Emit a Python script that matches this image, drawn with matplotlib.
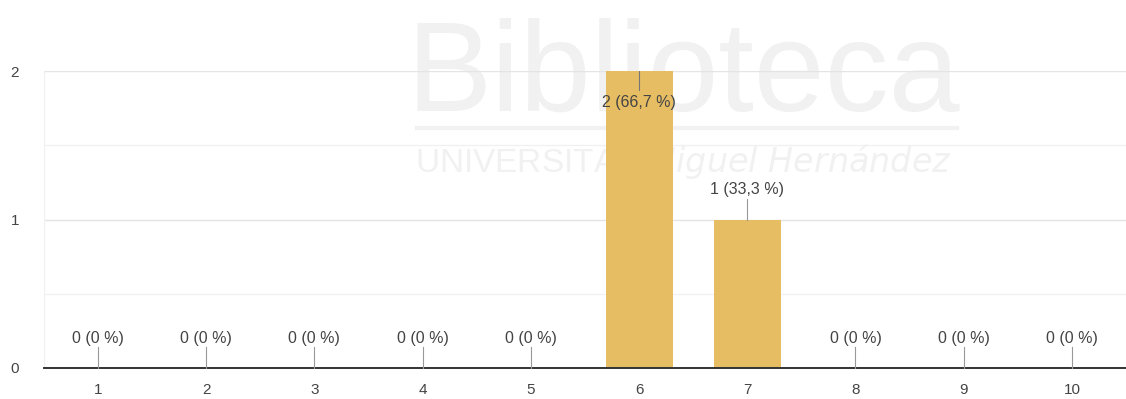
import matplotlib.pyplot as plt
from matplotlib.ticker import MultipleLocator

plt.rcParams['font.family'] = ['Liberation Sans', 'DejaVu Sans']

# answers on a 1-10 scale
categories = ['1', '2', '3', '4', '5', '6', '7', '8', '9', '10']
counts = [0, 0, 0, 0, 0, 2, 1, 0, 0, 0]
percents = ['0', '0', '0', '0', '0', '66,7', '33,3', '0', '0', '0']

bar_color = '#e6bd63'
text_color = '#444444'
fs = 11.5

fig = plt.figure(figsize=(11.26, 3.99), dpi=100)
ax = fig.add_axes([0.039, 0.0777, 0.961, 0.744])
ax.patch.set_alpha(0)

x = list(range(1, len(categories) + 1))
ax.bar(x, counts, width=0.62, color=bar_color, zorder=2)

ax.set_xlim(0.5, 10.5)
ax.set_ylim(0, 2)
ax.set_xticks(x)
ax.set_xticklabels(categories)
ax.yaxis.set_major_locator(MultipleLocator(1))
ax.yaxis.set_minor_locator(MultipleLocator(0.5))
ax.tick_params(axis='both', which='both', length=0, labelsize=11, colors=text_color)
ax.tick_params(axis='x', pad=11)
ax.tick_params(axis='y', pad=24)
for t in ax.get_yticklabels():
    t.set_horizontalalignment('left')

ax.grid(axis='y', which='major', color='#e4e4e4', linewidth=1, zorder=0)
ax.grid(axis='y', which='minor', color='#f1f1f1', linewidth=1, zorder=0)
for side in ['top', 'right']:
    ax.spines[side].set_visible(False)
ax.spines['left'].set_color('#f0f0f0')
ax.spines['bottom'].set_color('#333333')
ax.spines['bottom'].set_linewidth(1.4)
ax.spines['bottom'].set_zorder(3)

# value labels with a short leader line to the top of each bar
top = max(counts)
for xi, c, p in zip(x, counts, percents):
    label = f'{c} ({p} %)'
    if c == top:
        ax.plot([xi, xi], [c, c - 0.13], color='#777777', linewidth=0.8, zorder=4)
        ax.text(xi, c - 0.21, label, ha='center', va='center', fontsize=fs,
                color=text_color, zorder=5)
    else:
        ax.plot([xi, xi], [c, c + 0.14], color='#999999', linewidth=0.8,
                zorder=4, clip_on=False)
        ax.text(xi, c + 0.2, label, ha='center', va='center', fontsize=fs,
                color=text_color, zorder=5, clip_on=False)

# faint library watermark behind the chart
wm = '#f1f1f1'
fig.text(0.607, 0.722, 'Biblioteca', ha='center', va='baseline', fontsize=92,
         color=wm, zorder=-1)
fig.add_artist(plt.Line2D([0.37, 0.85], [0.68, 0.68], color=wm,
                          linewidth=3, transform=fig.transFigure, zorder=-1))
fig.text(0.607, 0.595, 'UNIVERSITAS $\\it{Miguel\\ Hernández}$', ha='center',
         va='center', fontsize=24, color=wm, zorder=-1)

fig.savefig('out.png', dpi=100)
